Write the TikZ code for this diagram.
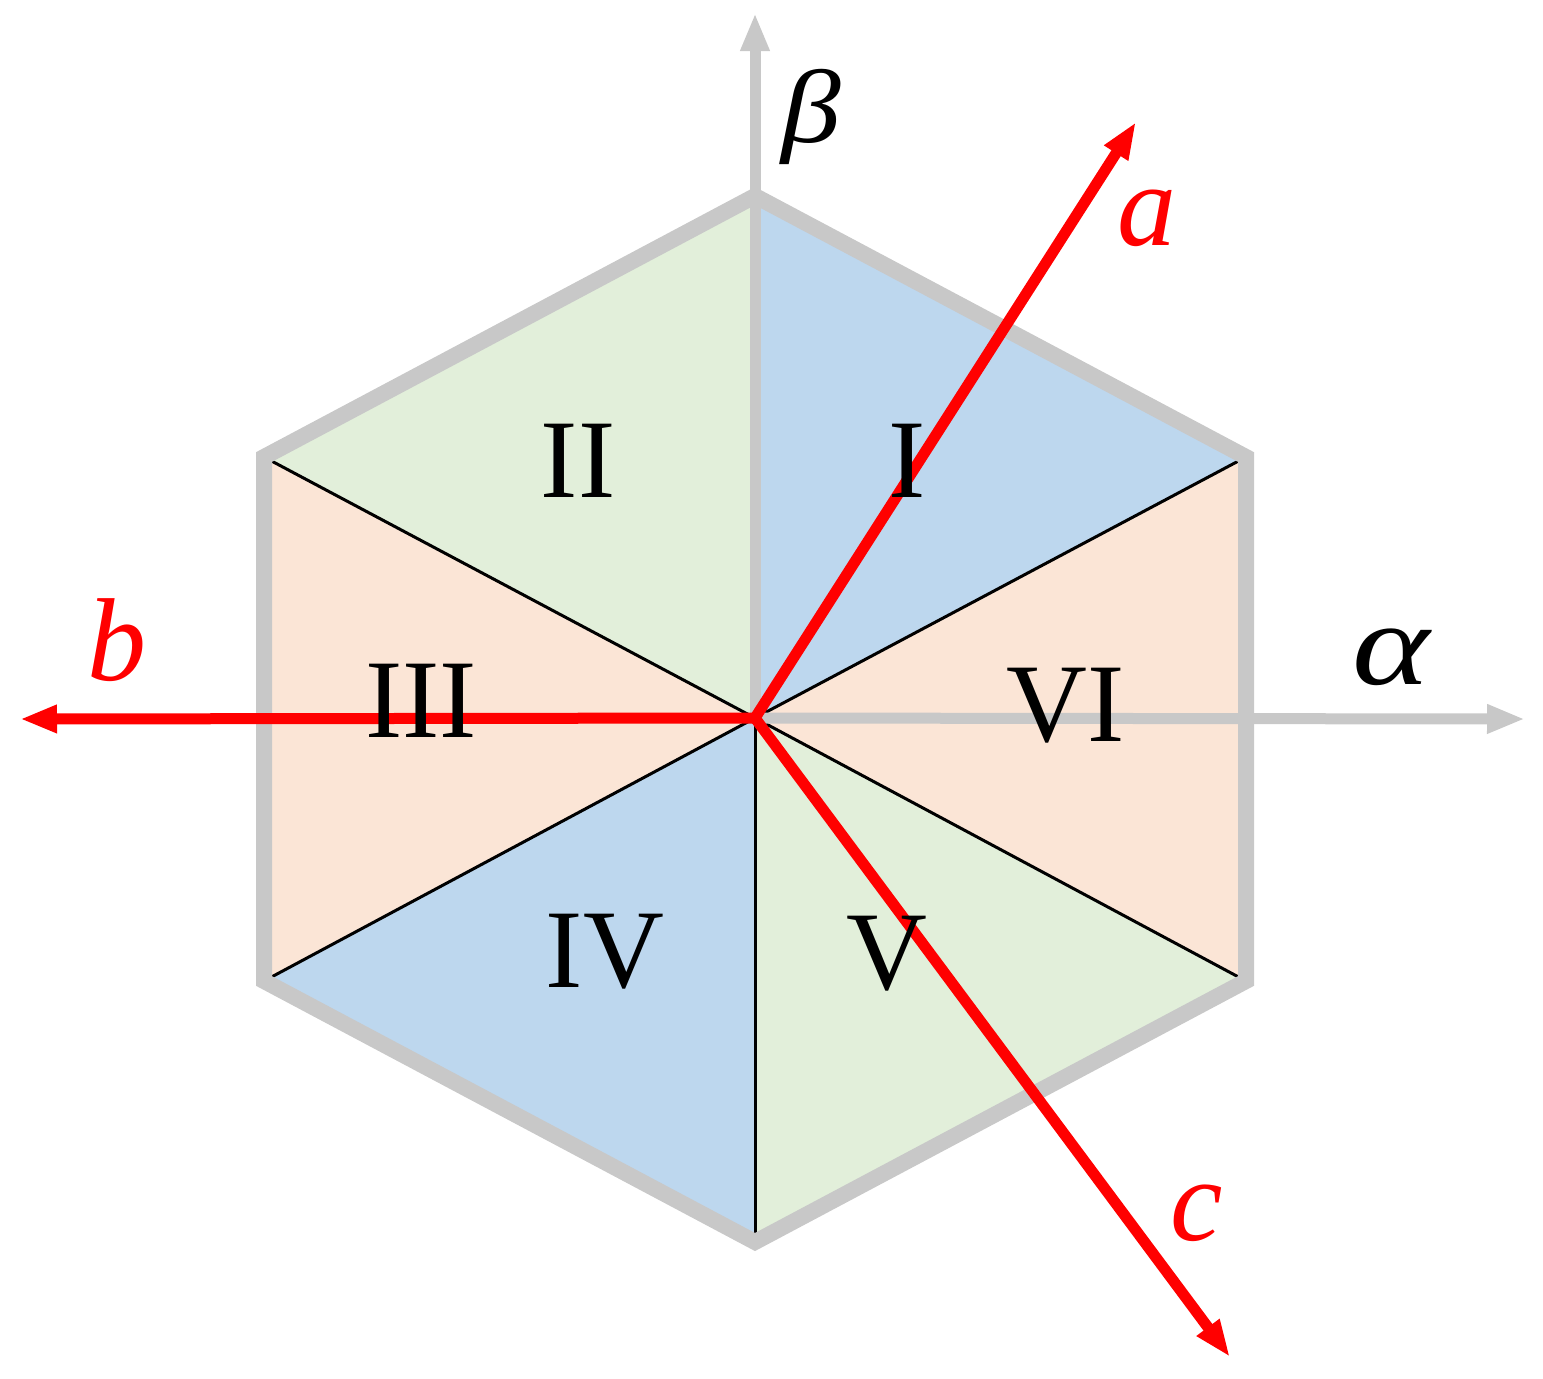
\documentclass[tikz,border=0pt]{standalone}
\usepackage{fontspec}
\setmainfont{Liberation Serif}
\usetikzlibrary{arrows.meta}
\definecolor{secblue}{HTML}{BDD7EE}
\definecolor{secgreen}{HTML}{E2EFDA}
\definecolor{secorange}{HTML}{FBE5D6}
\definecolor{axgray}{HTML}{C8C8C8}
\definecolor{phred}{HTML}{FF0000}
\tikzset{
  divider/.style={black, line width=3pt},
  hexborder/.style={axgray, line width=16pt, line join=miter},
  grayaxis/.style={axgray, line width=11pt, -{Triangle[length=38pt,width=27pt]}},
  phaseaxis/.style={phred, line width=11pt, -{Triangle[length=37pt,width=26pt]}},
  sectorlabel/.style={inner sep=0pt, font=\fontsize{112}{120}\selectfont},
  axislabel/.style={inner sep=0pt, font=\fontsize{118}{125}\selectfont\itshape},
}
\begin{document}
\begin{tikzpicture}[x=1pt,y=-1pt]
\useasboundingbox (0,0) rectangle (1543,1379);
% centre and hexagon vertices
\coordinate (O) at (755,718);
\coordinate (T) at (755,196);
\coordinate (UR) at (1246,457);
\coordinate (LR) at (1246,981);
\coordinate (B) at (755,1242);
\coordinate (LL) at (264,981);
\coordinate (UL) at (264,457);
% sectors
\fill[secblue] (O) -- (T) -- (UR) -- cycle;
\fill[secgreen] (O) -- (T) -- (UL) -- cycle;
\fill[secorange] (O) -- (UL) -- (LL) -- cycle;
\fill[secblue] (O) -- (LL) -- (B) -- cycle;
\fill[secgreen] (O) -- (B) -- (LR) -- cycle;
\fill[secorange] (O) -- (LR) -- (UR) -- cycle;
% thin dividers
\draw[divider] (O) -- (UR);
\draw[divider] (O) -- (UL);
\draw[divider] (O) -- (LL);
\draw[divider] (O) -- (LR);
\draw[divider] (O) -- (B);
% hexagon border
\draw[hexborder] (T) -- (UR) -- (LR) -- (B) -- (LL) -- (UL) -- cycle;
% alpha-beta axes
\coordinate (betatip) at (755,13);
\coordinate (alphatip) at (1525,719);
\draw[grayaxis] (O) -- (betatip);
\draw[grayaxis] (O) -- (alphatip);
% phase axes
\coordinate (atip) at (1136,122);
\coordinate (btip) at (20,719);
\coordinate (ctip) at (1230,1357);
\draw[phaseaxis] (O) -- (atip);
\draw[phaseaxis] (O) -- (btip);
\draw[phaseaxis] (O) -- (ctip);
% axis labels
\node[axislabel, font=\fontsize{104}{110}\selectfont\itshape, xscale=1.15] (lbeta) at (811,117) {β};
\node[axislabel, xscale=1.25] (lalpha) at (1391,657) {α};
\node[axislabel, text=phred] (la) at (1147,218) {a};
\node[axislabel, text=phred] (lb) at (117,640) {b};
\node[axislabel, text=phred] (lc) at (1197,1213) {c};
% sector labels
\node[sectorlabel] (s1) at (907,461) {I};
\node[sectorlabel] (s2) at (578,461) {II};
\node[sectorlabel] (s3) at (421,701) {III};
\node[sectorlabel] (s4) at (605,952) {IV};
\node[sectorlabel] (s5) at (887,954) {V};
\node[sectorlabel] (s6) at (1066,706) {VI};
\end{tikzpicture}
\end{document}
